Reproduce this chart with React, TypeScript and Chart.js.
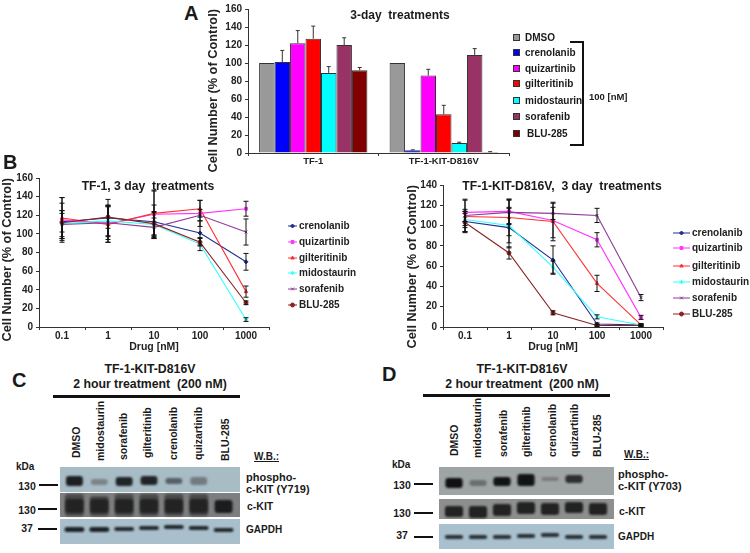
import React, { useEffect, useRef } from "react";
import { Chart, registerables } from "chart.js";
import { drawPoint } from "chart.js/helpers";

Chart.register(...registerables);

const FONT = "'Liberation Sans', Arial, sans-serif";

// Panel A data
const groupsA = ["TF-1", "TF-1-KIT-D816V"];
const drugsA = ["DMSO", "crenolanib", "quizartinib", "gilteritinib", "midostaurin", "sorafenib", "BLU-285"];
const colorsA = ["#999999", "#0000ff", "#ff00ff", "#ff0000", "#00ffff", "#993366", "#800000"];
const dmsoA = [100, 100];
const crenolanibA = [101, 3];
const quizartinibA = [122, 86];
const gilteritinibA = [127, 43];
const midostaurinA = [89, 11];
const sorafenibA = [120, 109];
const bluA = [92, 1];
const valuesA = [dmsoA, crenolanibA, quizartinibA, gilteritinibA, midostaurinA, sorafenibA, bluA];
const errorsA = [[0, 0], [13, 0.5], [14, 7], [14, 10], [7, 1], [8, 7], [3, 0.5]];

// Panel B data
const doses = ["0.1", "1", "10", "100", "1000"];
const lineNames = ["crenolanib", "quizartinib", "gilteritinib", "midostaurin", "sorafenib", "BLU-285"];
const lineColors = ["#1f2f90", "#ff33ff", "#ff3030", "#33ffff", "#8c3a98", "#8a2222"];
const lineMarkers = ["rectRot", "rect", "triangle", "star", "crossRot", "circle"];

const tf1Crenolanib = [113, 117, 113, 101, 70];
const tf1Quizartinib = [115, 111, 121, 122, 127];
const tf1Gilteritinib = [117, 110, 122, 127, 38];
const tf1Midostaurin = [111, 114, 110, 89, 8];
const tf1Sorafenib = [110, 112, 107, 120, 102];
const tf1Blu = [112, 118, 111, 91, 26];
const tf1Values = [tf1Crenolanib, tf1Quizartinib, tf1Gilteritinib, tf1Midostaurin, tf1Sorafenib, tf1Blu];
const tf1Errors = [
  [20, 20, 18, 13, 9],
  [24, 20, 26, 14, 8],
  [22, 19, 24, 9, 6],
  [14, 16, 14, 7, 2],
  [15, 18, 10, 6, 14],
  [10, 12, 12, 4, 2],
];

const kitCrenolanib = [104, 98, 66, 3, 2];
const kitQuizartinib = [113, 114, 105, 86, 9.5];
const kitGilteritinib = [109, 108, 104, 43, 2];
const kitMidostaurin = [106, 100, 59, 10, 2];
const kitSorafenib = [110, 113, 112, 110, 29];
const kitBlu = [103, 73, 14, 1.5, 1.5];
const kitValues = [kitCrenolanib, kitQuizartinib, kitGilteritinib, kitMidostaurin, kitSorafenib, kitBlu];
const kitErrors = [
  [10, 20, 14, 1, 1],
  [13, 12, 17, 7, 2],
  [16, 18, 19, 8, 1],
  [8, 17, 6, 2, 1],
  [6, 12, 6, 7, 3],
  [9, 6, 2, 1, 1],
];

// Blot panels: band extent in gel units, measured upward from the lower edge of the blot
const lanesC = ["DMSO", "midostaurin", "sorafenib", "gilteritinib", "crenolanib", "quizartinib", "BLU-285"];
const lanesD = ["DMSO", "midostaurin", "sorafenib", "gilteritinib", "crenolanib", "quizartinib", "BLU-285"];
const stripsC = [[52, 77], [27, 51], [0, 25]];
const stripsD = [[54, 82], [30, 50], [0, 25]];
const stripColorsC = ["#a8bcc6", "#7c7e7f", "#a9c0cc"];
const stripColorsD = ["#9fa5a5", "#8d8f8f", "#a9c0ce"];

const phosphoC = [[58, 68], [59, 65], [58, 67], [59, 68], [60, 66], [59, 67], null];
const phosphoCShade = ["#1c2022", "#7b8488", "#202426", "#202426", "#566066", "#727c80", "#000"];
const kitC = [[31, 45], [31, 45], [31, 45], [31, 45], [31, 45], [31, 45], [31, 44]];
const kitCShade = ["#232323", "#232323", "#232323", "#232323", "#232323", "#232323", "#1c1c1c"];
const kitHaloC = [[28, 50], [28, 48], [28, 50], [28, 50], [28, 50], [28, 50], null];
const kitHaloCShade = ["#4a4a4a", "#4a4a4a", "#4a4a4a", "#4a4a4a", "#4a4a4a", "#4a4a4a", "#4a4a4a"];
const gapdhC = [[12, 17], [12, 17], [13, 17], [14, 18], [15, 19], [14, 18], [12, 16]];
const gapdhCShade = ["#1c2226", "#1c2226", "#22282c", "#22282c", "#22282c", "#22282c", "#22282c"];

const phosphoD = [[61, 71], [63, 69], [63, 72], [63, 75], [68, 72], [66, 74], null];
const phosphoDShade = ["#0f1210", "#6b6e6c", "#111412", "#111412", "#7a7c7a", "#2e302e", "#000"];
const kitD = [[32, 43], [31, 43], [33, 45], [35, 47], [34, 46], [36, 47], [34, 46]];
const kitDShade = ["#222222", "#222222", "#222222", "#222222", "#222222", "#222222", "#222222"];
const gapdhD = [[10, 14], [10, 14], [10, 14], [11, 15], [12, 16], [10, 14], [10, 14]];
const gapdhDShade = ["#2a3034", "#2a3034", "#2a3034", "#2a3034", "#2a3034", "#2a3034", "#2a3034"];

const errorBars = {
  id: "errorBars",
  afterDatasetsDraw(chart: any, _a: any, opts: any) {
    const { ctx, scales } = chart;
    chart.data.datasets.forEach((ds: any, i: number) => {
      if (!ds.errors) return;
      const meta = chart.getDatasetMeta(i);
      ctx.save();
      ctx.strokeStyle = opts.color;
      ctx.lineWidth = 1;
      ds.errors.forEach((err: number, j: number) => {
        if (!err) return;
        const x = meta.data[j].x;
        const v = ds.data[j];
        const top = scales.y.getPixelForValue(v + err);
        const bot = opts.upperOnly ? scales.y.getPixelForValue(v) : scales.y.getPixelForValue(v - err);
        ctx.beginPath();
        ctx.moveTo(x, top);
        ctx.lineTo(x, bot);
        ctx.moveTo(x - opts.cap, top);
        ctx.lineTo(x + opts.cap, top);
        if (!opts.upperOnly) {
          ctx.moveTo(x - opts.cap, bot);
          ctx.lineTo(x + opts.cap, bot);
        }
        ctx.stroke();
      });
      ctx.restore();
    });
  },
};

const lineLegend = {
  id: "lineLegend",
  afterDraw(chart: any, _a: any, opts: any) {
    if (!opts.ys) return;
    const { ctx } = chart;
    ctx.save();
    chart.data.datasets.forEach((ds: any, i: number) => {
      const y = opts.ys[i];
      ctx.strokeStyle = ds.borderColor;
      ctx.fillStyle = ds.borderColor;
      ctx.lineWidth = 1;
      ctx.beginPath();
      ctx.moveTo(opts.x0, y);
      ctx.lineTo(opts.x1, y);
      ctx.stroke();
      drawPoint(ctx, { pointStyle: ds.pointStyle, radius: 2, borderWidth: 1 }, (opts.x0 + opts.x1) / 2, y);
      ctx.fillStyle = "#222";
      ctx.font = `bold ${opts.size}px ${FONT}`;
      ctx.textBaseline = "middle";
      ctx.textAlign = "left";
      ctx.fillText(ds.label, opts.textX, y);
    });
    ctx.restore();
  },
};

const blotPlugin = {
  id: "blot",
  beforeDatasetsDraw(chart: any, _a: any, opts: any) {
    const { ctx, chartArea, scales } = chart;
    ctx.save();
    opts.strips.forEach((s: number[], i: number) => {
      const top = scales.y.getPixelForValue(s[1]);
      const bot = scales.y.getPixelForValue(s[0]);
      ctx.fillStyle = opts.colors[i];
      ctx.fillRect(chartArea.left - opts.padL, top, chartArea.width + opts.padL + opts.padR, bot - top);
    });
    ctx.restore();
    ctx.save();
    ctx.filter = "blur(1.1px)";
  },
  afterDatasetsDraw(chart: any) {
    chart.ctx.restore();
  },
};

function axisY(max: number, step: number, titleSize: number, tickSize: number, width: number) {
  return {
    min: 0,
    max,
    afterFit: (s: any) => {
      s.width = width;
    },
    border: { color: "#333", width: 1 },
    grid: { drawOnChartArea: false, tickLength: 3, color: "#333" },
    ticks: { stepSize: step, color: "#222", padding: 3, font: { family: FONT, weight: "bold", size: tickSize } },
    title: {
      display: true,
      text: "Cell Number (% of Control)",
      align: "end",
      color: "#222",
      padding: { top: 0, bottom: 0 },
      font: { family: FONT, weight: "bold", size: titleSize },
    },
  };
}

function axisX(height: number, tickSize: number, title?: string) {
  return {
    type: "category",
    offset: true,
    afterFit: (s: any) => {
      s.height = height;
    },
    border: { color: "#333", width: 1 },
    grid: { offset: true, drawOnChartArea: false, tickLength: 3, color: "#333" },
    ticks: { color: "#222", padding: 0, maxRotation: 0, autoSkip: false, font: { family: FONT, weight: "bold", size: tickSize } },
    title: title
      ? { display: true, text: title, color: "#222", padding: { top: 0, bottom: 0 }, font: { family: FONT, weight: "bold", size: 10.5 } }
      : { display: false },
  };
}

function useChart(config: () => any) {
  const ref = useRef<HTMLCanvasElement | null>(null);
  useEffect(() => {
    if (!ref.current) return;
    const c = new Chart(ref.current, config());
    return () => c.destroy();
  }, []);
  return ref;
}

function lineConfig(values: number[][], errors: number[][], padding: any, yMax: number, yW: number, legend: any) {
  return {
    type: "line",
    data: {
      labels: doses,
      datasets: lineNames.map((label, i) => ({
        label,
        data: values[i],
        errors: errors[i],
        order: 6 - i,
        borderColor: lineColors[i],
        backgroundColor: lineColors[i],
        borderWidth: 1.1,
        pointStyle: lineMarkers[i],
        pointRadius: 2,
        pointBorderWidth: 1,
        tension: 0,
      })),
    },
    options: {
      animation: false,
      responsive: false,
      layout: { padding },
      scales: { x: axisX(26, 10), y: axisY(yMax, 20, 12.8, 10, yW) },
      plugins: {
        legend: { display: false },
        tooltip: { enabled: false },
        errorBars: { color: "#111", cap: 2.5, upperOnly: false },
        lineLegend: legend,
      },
    },
    plugins: [errorBars, lineLegend],
  };
}

function withTitle(cfg: any) {
  cfg.options.scales.x.title = {
    display: true,
    text: "Drug [nM]",
    color: "#222",
    padding: { top: 0, bottom: 0 },
    font: { family: FONT, weight: "bold", size: 10.5 },
  };
  return cfg;
}

function blotConfig(lanes: string[], strips: number[][], colors: string[], rows: any[][], shades: string[][], widths: number[], orders: number[], yMax: number, padL: number, padR: number, padding: any) {
  return {
    type: "bar",
    data: {
      labels: lanes,
      datasets: rows.map((data, i) => ({
        data,
        backgroundColor: shades[i],
        grouped: false,
        barPercentage: widths[i],
        categoryPercentage: 1,
        borderRadius: 3,
        borderSkipped: false,
        order: orders[i],
      })),
    },
    options: {
      animation: false,
      responsive: false,
      layout: { padding },
      scales: {
        x: { display: false, offset: true },
        y: { display: false, min: 0, max: yMax },
      },
      plugins: {
        legend: { display: false },
        tooltip: { enabled: false },
        blot: { strips, colors, padL, padR },
      },
    },
    plugins: [blotPlugin],
  };
}

function T(p: { x: number; y: number; s: number; c?: boolean; w?: number; u?: boolean; children: any }) {
  return (
    <div
      style={{
        position: "absolute",
        left: p.x,
        top: p.y,
        transform: p.c ? "translate(-50%,-50%)" : "translateY(-50%)",
        fontFamily: FONT,
        fontWeight: p.w ?? 700,
        fontSize: p.s,
        lineHeight: 1,
        whiteSpace: "pre",
        color: "#1a1a1a",
        textDecoration: p.u ? "underline" : "none",
      }}
    >
      {p.children}
    </div>
  );
}

function Lane(p: { x: number; bottom: number; children: any }) {
  return (
    <div
      style={{
        position: "absolute",
        left: p.x,
        top: p.bottom,
        transformOrigin: "0 0",
        transform: "rotate(-90deg) translateY(-50%)",
        fontFamily: FONT,
        fontWeight: 700,
        fontSize: 10.5,
        lineHeight: 1,
        whiteSpace: "pre",
        color: "#1a1a1a",
      }}
    >
      {p.children}
    </div>
  );
}

function R(p: { x: number; y: number; w: number; h: number; bg?: string }) {
  return <div style={{ position: "absolute", left: p.x, top: p.y, width: p.w, height: p.h, background: p.bg ?? "#111" }} />;
}

const legendAYs = [37, 52, 68, 83, 100, 116, 133];
const laneXC = [76, 100, 123, 147, 173, 198, 225];
const laneBottomC = [458, 461, 460, 458, 460, 460, 461];
const laneXD = [454, 477, 503, 526, 552, 574, 597];
const laneBottomD = [456, 458, 457, 457, 457, 457, 457];

export default function App() {
  const a = useChart(() => ({
    type: "bar",
    data: {
      labels: groupsA,
      datasets: drugsA.map((label, i) => ({
        label,
        data: valuesA[i],
        errors: errorsA[i],
        backgroundColor: colorsA[i],
        borderColor: "#333",
        borderWidth: 1,
        categoryPercentage: 0.83,
        barPercentage: 1,
      })),
    },
    options: {
      animation: false,
      responsive: false,
      layout: { padding: { top: 8, right: 1, left: 0, bottom: 0 } },
      scales: { x: axisX(19, 9.5), y: axisY(160, 20, 12.8, 10, 42) },
      plugins: {
        legend: { display: false },
        tooltip: { enabled: false },
        errorBars: { color: "#333", cap: 2, upperOnly: true },
      },
    },
    plugins: [errorBars],
  }));
  const b1 = useChart(() =>
    withTitle(
      lineConfig(tf1Values, tf1Errors, { top: 13, right: 106, left: 0, bottom: 0 }, 160, 39, {
        ys: [226, 242, 258, 273, 289, 305].map((y) => y - 165),
        x0: 288,
        x1: 297,
        textX: 299,
        size: 10,
      })
    )
  );
  const b2 = useChart(() =>
    withTitle(
      lineConfig(kitValues, kitErrors, { top: 15, right: 87, left: 0, bottom: 0 }, 140, 38, {
        ys: [233, 248, 266, 282, 298, 314].map((y) => y - 170),
        x0: 673 - 405,
        x1: 690 - 405,
        textX: 692 - 405,
        size: 10,
      })
    )
  );
  const c = useChart(() =>
    blotConfig(
      lanesC,
      stripsC,
      stripColorsC,
      [phosphoC, kitC, kitHaloC, gapdhC],
      [phosphoCShade, kitCShade, kitHaloCShade, gapdhCShade],
      [0.68, 0.72, 0.76, 0.8],
      [1, 1, 2, 1],
      77,
      2,
      4,
      { left: 4, right: 8, top: 2, bottom: 1 }
    )
  );
  const d = useChart(() =>
    blotConfig(
      lanesD,
      stripsD,
      stripColorsD,
      [phosphoD, kitD, gapdhD],
      [phosphoDShade, kitDShade, gapdhDShade],
      [0.72, 0.76, 0.76],
      [1, 1, 1],
      82,
      3,
      4,
      { left: 6, right: 8, top: 2, bottom: 1 }
    )
  );

  return (
    <div style={{ position: "absolute", left: 0, top: 0, width: 750, height: 553, overflow: "hidden", background: "#fff", filter: "blur(0.3px)" }}>
      <canvas ref={a} width={304} height={172} style={{ position: "absolute", left: 206, top: 0 }} />
      <canvas ref={b1} width={375} height={188} style={{ position: "absolute", left: 0, top: 165 }} />
      <canvas ref={b2} width={345} height={183} style={{ position: "absolute", left: 405, top: 170 }} />
      <canvas ref={c} width={186} height={80} style={{ position: "absolute", left: 58, top: 465 }} />
      <canvas ref={d} width={182} height={85} style={{ position: "absolute", left: 436, top: 465 }} />

      <T x={184} y={13} s={20}>A</T>
      <T x={400} y={15} s={12} c>3-day  treatments</T>
      {drugsA.map((name, i) => (
        <React.Fragment key={name}>
          <div style={{ position: "absolute", left: 513, top: legendAYs[i] - 3, width: 5, height: 5, background: colorsA[i], border: "1px solid #333" }} />
          <T x={i === 6 ? 527 : 525} y={legendAYs[i] + 1} s={10}>{name}</T>
        </React.Fragment>
      ))}
      <div style={{ position: "absolute", left: 570, top: 41, width: 12, height: 101, borderTop: "2px solid #111", borderRight: "2px solid #111", borderBottom: "2px solid #111" }} />
      <T x={589} y={97} s={9.5}>100 [nM]</T>

      <T x={3} y={162} s={20}>B</T>
      <T x={148} y={186} s={12.2} c>TF-1, 3 day  treatments</T>
      <T x={562} y={186} s={12.2} c>TF-1-KIT-D816V,  3 day  treatments</T>

      <T x={12} y={380} s={20}>C</T>
      <T x={150} y={369} s={12.3} c>TF-1-KIT-D816V</T>
      <T x={150} y={384} s={12.3} c>2 hour treatment  (200 nM)</T>
      <R x={53} y={395} w={187} h={3} />
      {lanesC.map((n, i) => <Lane key={n} x={laneXC[i]} bottom={laneBottomC[i]}>{n}</Lane>)}
      <T x={16} y={467} s={10}>kDa</T>
      <T x={27} y={486} s={10.5} c>130</T>
      <R x={39} y={484} w={19} h={2} />
      <T x={27} y={510} s={10.5} c>130</T>
      <R x={38} y={508} w={19} h={2} />
      <T x={27} y={528} s={10.5} c>37</T>
      <R x={38} y={528} w={19} h={1.5} />
      <T x={254} y={457} s={10} u>W.B.:</T>
      <T x={246} y={477} s={11}>phospho-</T>
      <T x={246} y={489} s={11}>c-KIT (Y719)</T>
      <T x={247} y={506} s={10.5}>c-KIT</T>
      <T x={246} y={530} s={10}>GAPDH</T>

      <T x={382} y={374} s={20}>D</T>
      <T x={522} y={369} s={12.3} c>TF-1-KIT-D816V</T>
      <T x={522} y={384} s={12.3} c>2 hour treatment  (200 nM)</T>
      <R x={423} y={394} w={187} h={3} />
      {lanesD.map((n, i) => <Lane key={n + "d"} x={laneXD[i]} bottom={laneBottomD[i]}>{n}</Lane>)}
      <T x={392} y={465} s={10}>kDa</T>
      <T x={402} y={485} s={10.5} c>130</T>
      <R x={414} y={483} w={19} h={1.5} />
      <T x={402} y={513} s={10.5} c>130</T>
      <R x={414} y={512} w={19} h={2} />
      <T x={402} y={535} s={10.5} c>37</T>
      <R x={414} y={536} w={19} h={2} />
      <T x={624} y={455} s={10} u>W.B.:</T>
      <T x={618} y={474} s={11}>phospho-</T>
      <T x={618} y={486} s={11}>c-KIT (Y703)</T>
      <T x={619} y={511} s={10.5}>c-KIT</T>
      <T x={618} y={537} s={10}>GAPDH</T>
    </div>
  );
}
